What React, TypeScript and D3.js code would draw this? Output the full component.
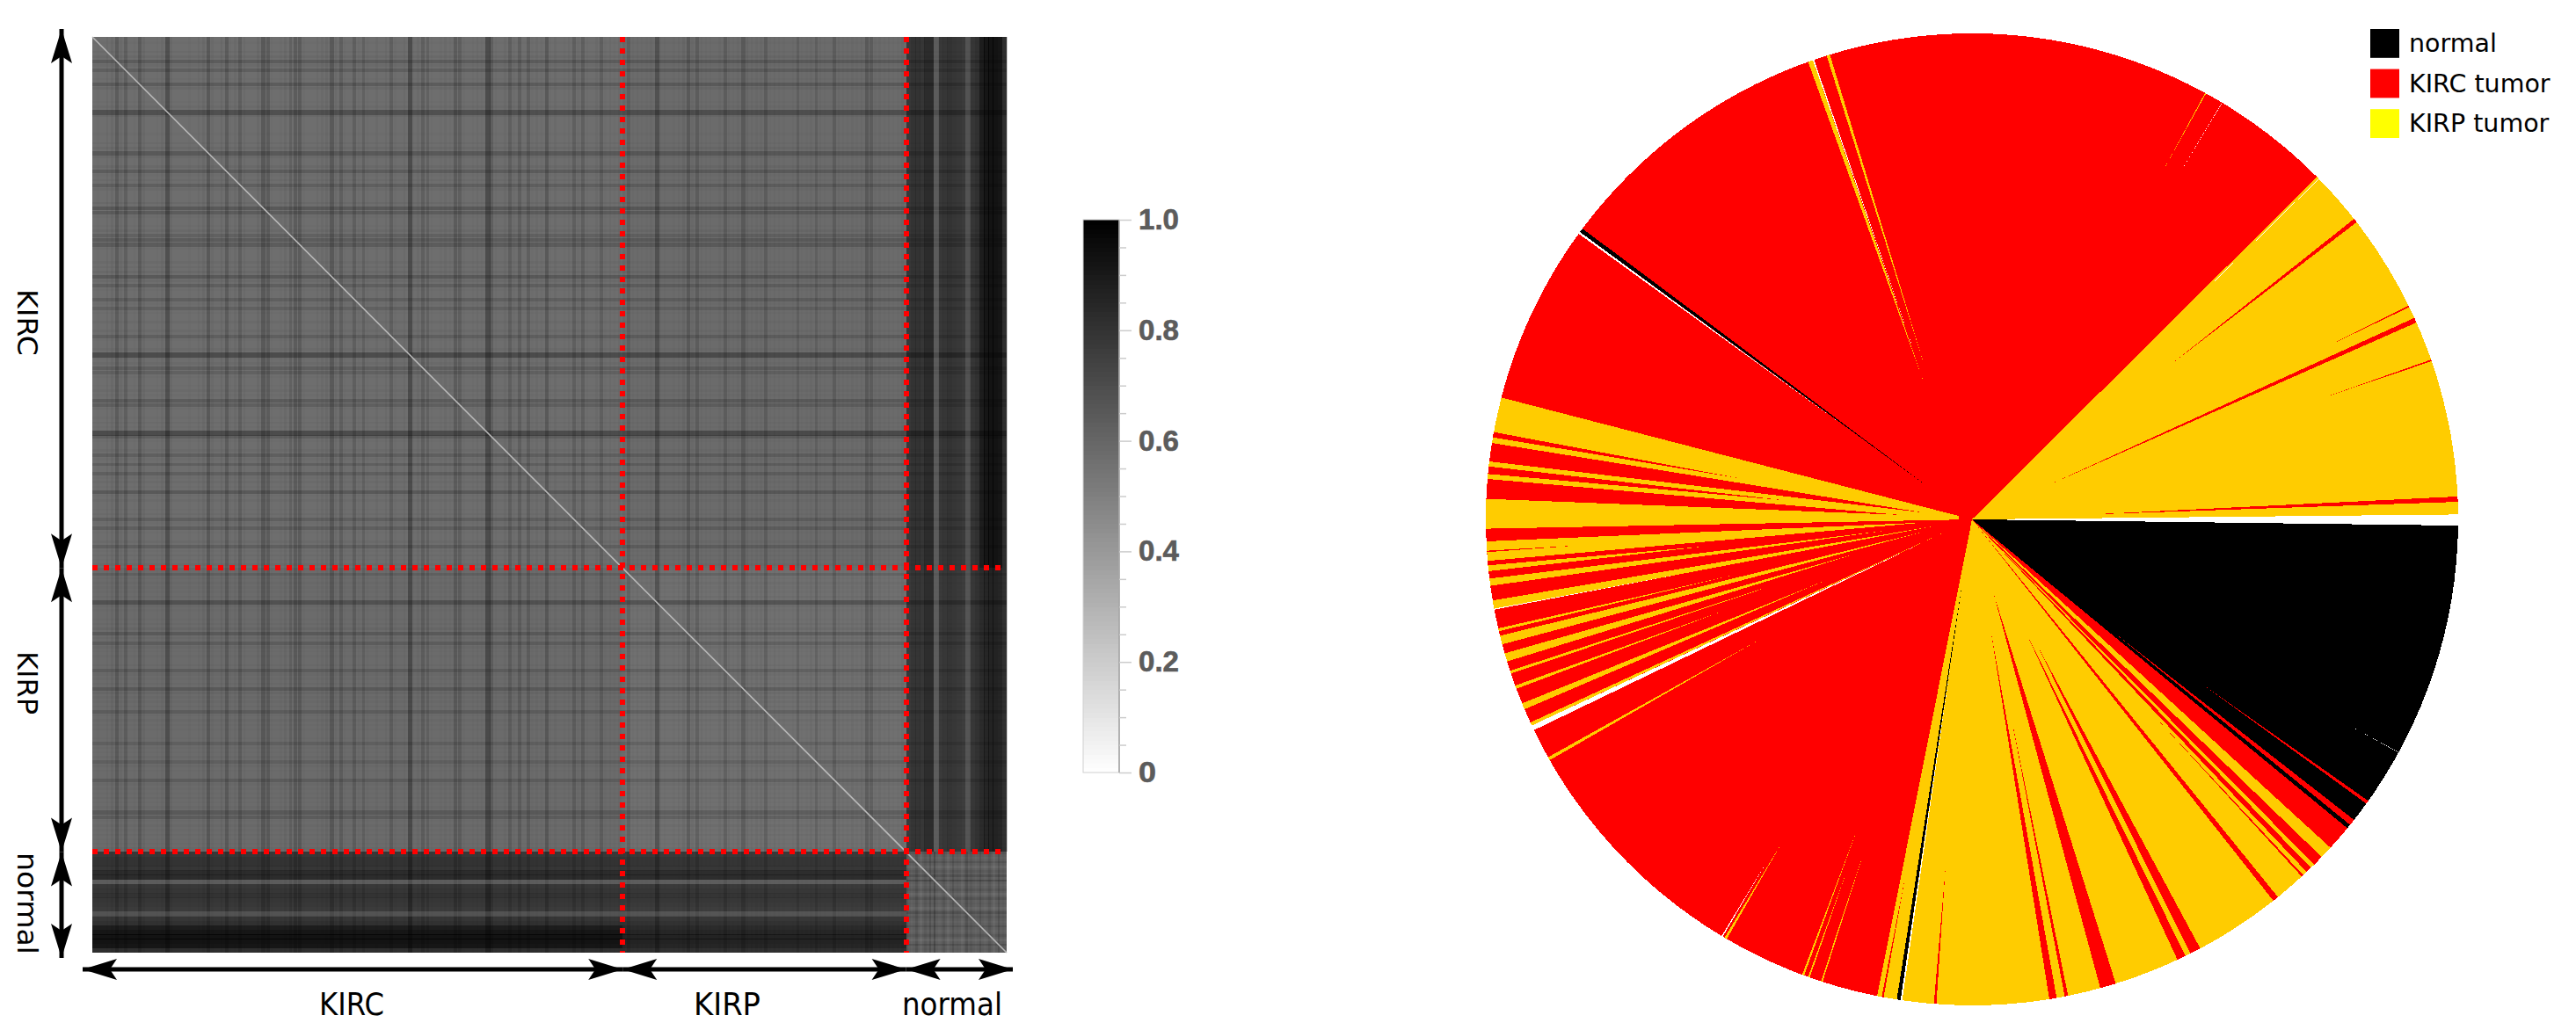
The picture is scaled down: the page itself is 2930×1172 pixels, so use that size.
import * as d3 from 'd3'
import React, { useEffect, useRef } from 'react'

// darkness of each thin row/column line
const kircStripes = [
    0, 0.01, 0, 0.02, 0.03, 0.08, 0.02, 0.07, 0, 0.01,
    0.08, 0.03, 0, 0, 0.01, 0.02, 0.12, 0.03, 0, 0,
    0, 0.01, 0, 0.02, 0.03, 0.09, 0.02, 0, 0.03, 0.08,
    0.01, 0.02, 0.07, 0.02, 0, 0, 0.03, 0.09, 0.08, 0.01,
    0, 0.01, 0.03, 0.06, 0.08, 0.08, 0.01, 0, 0, 0.02,
    0.02, 0.03, 0.09, 0.02, 0.07, 0.01, 0, 0.07, 0.01, 0.06,
    0.01, 0, 0.02, 0, 0.02, 0.07, 0.01, 0, 0.02, 0.13,
    0.01, 0.02, 0.07, 0.06, 0.01, 0, 0.01, 0.02, 0.01, 0.08,
    0.07, 0.01, 0, 0.01, 0.02, 0.01, 0.13, 0.07, 0.01, 0,
    0.02, 0.07, 0.01, 0.07, 0, 0.07, 0.01, 0.02, 0.01, 0.09,
    0.01, 0.02, 0, 0.01, 0.02, 0.07, 0.01, 0.07, 0.01, 0,
    0.02, 0.07, 0.01, 0.02, 0.01, 0.02,
]
const kirpStripes = [
    0.02, 0.06, 0.01, 0.02, 0.01, 0.01, 0.02, 0.11, 0.02, 0.01,
    0, 0.01, 0.02, 0.03, 0.08, 0.02, 0.07, 0.02, 0.01, 0.01,
    0, 0.02, 0.07, 0.02, 0.01, 0.02, 0.08, 0.03, 0.02, 0.02,
    0.02, 0.07, 0.01, 0.02, 0.01, 0.01, 0, 0.01, 0.06, 0.01,
    0.01, 0.02, 0.06, 0.02, 0.01, 0, 0.07, 0.02, 0.01, 0.01,
    0.02, 0.01, 0.02, 0.08, 0.07, 0.01, 0.02, 0.01, 0.02, 0.01,
    0.01, 0.02,
]
const normalStripes = [
    0.01, 0.03, 0.03, 0.02, 0.06, 0.06, -0.04, 0.01, 0.02, 0.03, 0.02,
    0.01, 0, -0.03, 0.02, 0.04, 0.07, 0.09, 0.1, 0.1, 0.09, 0.05,
]
const normalTexture = [
    0.03, -0.01, 0.04, -0.02, 0.02, 0.05, 0.08, -0.01, 0.03, -0.02, 0.04,
    0.01, -0.02, 0.05, 0.02, -0.01, 0.04, -0.01, 0.03, -0.02, 0.05, 0.01,
]
const groupStripes = [kircStripes, kirpStripes, normalStripes]
const groupNames = ['KIRC', 'KIRP', 'normal']
// mean similarity of each pair of groups
const blockLevels = [
    [0.57, 0.58, 0.77],
    [0.58, 0.56, 0.76],
    [0.77, 0.76, 0.63],
]
const barTicks = [0, 0.2, 0.4, 0.6, 0.8, 1]
const barMinorTicks = [
    0.05, 0.1, 0.15, 0.25, 0.3, 0.35, 0.45, 0.5, 0.55, 0.65, 0.7, 0.75, 0.85, 0.9, 0.95,
]

// pie: sample classes clockwise from 3 o'clock, angles in degrees
const sliceBreaks = [0.73, 39.46, 42.5, 44, 45.25, 45.8, 46.5, 51, 51.7, 101.25, 178.9, 194.52, 315.2, 359.42]
const sliceClasses = ['normal', 'kirc', 'kirp', 'kirc', 'kirp', 'kirc', 'kirp', 'kirc', 'kirp', 'kirc', 'kirp', 'kirc', 'kirp']
// thin samples lying over the slices: class, from, to, share of the radius where their tip sits
const spikes: [string, number, number, number][] = [
    ['kirc', 35.4, 35.8, 0.58],
    ['kirc', 38.2, 38.95, 0.37],
    ['white', 28.62, 28.68, 0.89],
    ['kirc', 47.05, 47.3, 0.55],
    ['kirc', 62, 63.3, 0.28],
    ['kirc', 63.95, 65, 0.25],
    ['kirc', 72.8, 74.7, 0.16],
    ['kirc', 78.6, 79, 0.41],
    ['kirc', 79.97, 80.85, 0.23],
    ['kirc', 94.2, 94.5, 0.72],
    ['white', 98.25, 98.45, 0.3],
    ['normal', 98.45, 98.9, 0.125],
    ['kirc', 100.47, 100.7, 0.75],
    ['kirp', 107.9, 108.1, 0.72],
    ['kirp', 109.5, 109.7, 0.77],
    ['kirp', 110.2, 110.45, 0.68],
    ['kirp', 120.3, 120.6, 0.77],
    ['white', 120.85, 121, 0.82],
    ['kirp', 150.3, 150.7, 0.5],
    ['white', 154.3, 154.9, 0.12],
    ['kirp', 154.9, 155.3, 0.05],
    ['kirp', 157, 157.75, 0.33],
    ['kirp', 159.6, 160, 0.54],
    ['kirp', 161.5, 161.85, 0.4],
    ['kirp', 163, 164, 0.25],
    ['kirp', 165.1, 166.15, 0.1],
    ['kirp', 166.7, 167.04, 0.5],
    ['kirp', 169.34, 170.4, 0.08],
    ['white', 169.3, 169.42, 0.6],
    ['kirp', 172.14, 173, 0.18],
    ['kirp', 173.88, 174.57, 0.55],
    ['kirp', 175.1, 177.41, 0.1],
    ['kirc', 176.13, 176.3, 0.81],
    ['kirc', 182.42, 184.77, 0.15],
    ['kirc', 185.36, 186.26, 0.39],
    ['kirc', 186.85, 189.05, 0.1],
    ['kirc', 189.72, 190.35, 0.49],
    ['white', 216, 216.25, 0.33],
    ['normal', 216.25, 216.75, 0.1],
    ['kirp', 250.3, 250.9, 0.3],
    ['white', 250.9, 251.05, 0.35],
    ['kirp', 252.6, 253, 0.32],
    ['kirp', 298.65, 298.78, 0.81],
    ['white', 300.93, 300.99, 0.81],
    ['white', 315.47, 315.55, 0.58],
    ['kirc', 321.8, 322.3, 0.52],
    ['kirc', 333.9, 334.1, 0.8],
    ['kirc', 335.5, 336.1, 0.17],
    ['kirc', 340.8, 341, 0.77],
    ['kirc', 357.3, 357.93, 0.24],
]
// red core where the left hand slices stop short of the centre: from, to, share of the radius
const coreSlice = [120, 240, 0.028]
const legendLabels = ['normal', 'KIRC tumor', 'KIRP tumor']
const legendClasses = ['normal', 'kirc', 'legendKirp']

const classColors = { normal: '#000000', kirc: '#ff0000', kirp: '#ffcc00', legendKirp: '#ffff00', white: '#ffffff' }

const width = 2930
const height = 1172

const App = (): JSX.Element => {
    const ref = useRef<SVGSVGElement>(null)

    useEffect(() => {
        const svg = d3.select(ref.current)
        svg.selectAll('*').remove()
        svg.append('rect').attr('width', width).attr('height', height).attr('fill', '#fff')

        // ---------- similarity matrix
        const sizes = groupStripes.map((s) => s.length)
        const total = d3.sum(sizes)
        const edges = [0, sizes[0], sizes[0] + sizes[1], total]
        const index = d3.range(total)
        const x = d3.scaleBand<number>().domain(index).range([105, 1145])
        const y = d3.scaleBand<number>().domain(index).range([42, 1084])
        const gray = d3.scaleLinear<string>().domain([0, 1]).range(['#ffffff', '#000000']).clamp(true)
        const xEdge = (k) => (k === total ? x.range()[1] : x(k))
        const yEdge = (k) => (k === total ? y.range()[1] : y(k))
        const bw = x.bandwidth()

        const matrix = svg.append('g').attr('shape-rendering', 'crispEdges')
        const drawBlock = (row, col) => {
            matrix
                .append('rect')
                .attr('x', xEdge(edges[col]))
                .attr('y', yEdge(edges[row]))
                .attr('width', xEdge(edges[col + 1]) - xEdge(edges[col]))
                .attr('height', yEdge(edges[row + 1]) - yEdge(edges[row]))
                .attr('fill', gray(blockLevels[row][col]))
        }
        d3.range(3).forEach((row) => d3.range(3).forEach((col) => drawBlock(row, col)))

        // every row/column line is a thin dark (or light) veil over the blocks
        const tumorVeil = d3.scalePow().exponent(1.3).domain([0, 0.13]).range([0, 0.3])
        const normalVeil = d3.scaleLinear().domain([0, 0.12]).range([0, 0.5])
        const textureVeil = d3.scaleLinear().domain([0, 0.12]).range([0, 0.32])
        const drawStripe = (k, value, veil, wide, x0, x1, y0, y1) => {
            const opacity = veil(Math.abs(value))
            const fill = value < 0 ? '#ffffff' : '#000000'
            matrix
                .append('rect')
                .attr('x', x(k))
                .attr('y', y0)
                .attr('width', wide)
                .attr('height', y1 - y0)
                .attr('fill', fill)
                .attr('fill-opacity', opacity)
            matrix
                .append('rect')
                .attr('x', x0)
                .attr('y', y(k))
                .attr('width', x1 - x0)
                .attr('height', wide)
                .attr('fill', fill)
                .attr('fill-opacity', opacity)
        }
        const [left, right] = x.range()
        const [top, bottom] = y.range()
        kircStripes.concat(kirpStripes).forEach((s, k) => {
            drawStripe(k, s, tumorVeil, bw * (0.4 + s * 5), left, right, top, bottom)
        })
        normalStripes.forEach((s, n) => {
            drawStripe(edges[2] + n, s, normalVeil, bw + 0.5, left, xEdge(edges[2]), top, yEdge(edges[2]))
        })
        // the deep part of the normal rows only darkens further against KIRC
        normalStripes.forEach((s, n) => {
            if (s < 0.07) return
            drawStripe(edges[2] + n, s, normalVeil, bw + 0.5, left, xEdge(edges[1]), top, yEdge(edges[1]))
        })
        // normal vs normal has its own fine grain
        drawBlock(2, 2)
        normalTexture.forEach((s, n) => {
            drawStripe(edges[2] + n, s, textureVeil, bw * 0.5, xEdge(edges[2]), right, yEdge(edges[2]), bottom)
        })

        svg.append('line')
            .attr('x1', left)
            .attr('y1', top)
            .attr('x2', right)
            .attr('y2', bottom)
            .attr('stroke', '#b8b8b8')
            .attr('stroke-width', 1.6)

        // group boundaries
        edges.slice(1, 3).forEach((k) => {
            svg.append('line')
                .attr('x1', xEdge(k))
                .attr('x2', xEdge(k))
                .attr('y1', top)
                .attr('y2', bottom)
                .attr('stroke', '#ff0000')
                .attr('stroke-width', 6)
                .attr('stroke-dasharray', '6 7')
                .attr('shape-rendering', 'crispEdges')
            svg.append('line')
                .attr('x1', left)
                .attr('x2', right)
                .attr('y1', yEdge(k))
                .attr('y2', yEdge(k))
                .attr('stroke', '#ff0000')
                .attr('stroke-width', 6)
                .attr('stroke-dasharray', '6 7')
                .attr('shape-rendering', 'crispEdges')
        })

        // double arrows along both sides
        const arrowHead = d3.line()
        const drawArrow = (x1, y1, x2, y2, weight) => {
            svg.append('line')
                .attr('x1', x1)
                .attr('y1', y1)
                .attr('x2', x2)
                .attr('y2', y2)
                .attr('stroke', '#000')
                .attr('stroke-width', weight)
            const angle = Math.atan2(y2 - y1, x2 - x1)
            ;[
                [x2, y2, angle],
                [x1, y1, angle + Math.PI],
            ].forEach(([px, py, a]) => {
                const local = (along, across) => [
                    px + along * Math.cos(a) - across * Math.sin(a),
                    py + along * Math.sin(a) + across * Math.cos(a),
                ]
                svg.append('path')
                    .attr('d', arrowHead([local(0, 0), local(-39, 12), local(-31, 0), local(-39, -12)]))
                    .attr('fill', '#000')
            })
        }
        const topTip = 33
        const bottomTip = 1090
        const leftTip = 94
        const rightTip = 1152
        const yStops = [topTip, yEdge(edges[1]), yEdge(edges[2]), bottomTip]
        const xStops = [leftTip, xEdge(edges[1]), xEdge(edges[2]), rightTip]
        d3.pairs(yStops).forEach(([a, b]) => drawArrow(70, a, 70, b, 5))
        d3.pairs(xStops).forEach(([a, b]) => drawArrow(a, 1103, b, 1103, 5))

        // group labels
        const sideLength = [76, 72, 116]
        groupNames.forEach((name, k) => {
            const middle = [367, 777, 1028][k]
            svg.append('text')
                .attr('transform', `translate(20,${middle}) rotate(90)`)
                .attr('text-anchor', 'middle')
                .attr('font-family', 'DejaVu Sans')
                .attr('font-size', 32)
                .attr('textLength', sideLength[k])
                .attr('lengthAdjust', 'spacingAndGlyphs')
                .text(name)
            svg.append('text')
                .attr('x', [400, 827, 1083][k])
                .attr('y', 1155)
                .attr('text-anchor', 'middle')
                .attr('font-family', 'DejaVu Sans')
                .attr('font-size', 36)
                .attr('textLength', [74, 76, 114][k])
                .attr('lengthAdjust', 'spacingAndGlyphs')
                .text(name)
        })

        // ---------- colour bar
        const barY = d3.scaleLinear().domain([0, 1]).range([879, 250])
        const barSteps = d3.range(0, 1, 1 / 120)
        svg.append('g')
            .attr('shape-rendering', 'crispEdges')
            .selectAll('rect')
            .data(barSteps)
            .enter()
            .append('rect')
            .attr('x', 1232)
            .attr('width', 41)
            .attr('y', (d) => barY(d + 1 / 120))
            .attr('height', (d) => barY(d) - barY(d + 1 / 120) + 0.5)
            .attr('fill', (d) => gray(d + 1 / 240))
        svg.append('rect')
            .attr('x', 1232)
            .attr('y', 250)
            .attr('width', 41)
            .attr('height', 629)
            .attr('fill', 'none')
            .attr('stroke', '#d0d0d0')
        svg.append('line')
            .attr('x1', 1273)
            .attr('x2', 1273)
            .attr('y1', 250)
            .attr('y2', 879)
            .attr('stroke', '#a0a0a0')
            .attr('stroke-width', 1.5)

        const minorAxis = d3.axisRight(barY).tickValues(barMinorTicks).tickSize(8).tickFormat(() => '')
        const majorAxis = d3
            .axisRight(barY)
            .tickValues(barTicks)
            .tickSize(14)
            .tickPadding(8)
            .tickFormat((d) => (d === 0 ? '0' : d3.format('.1f')(d)))
        ;[minorAxis, majorAxis].forEach((axis) => {
            const g = svg.append('g').attr('transform', 'translate(1273,0)').call(axis)
            g.select('.domain').remove()
            g.selectAll('line').attr('stroke', '#cccccc').attr('stroke-width', 1.5)
            g.selectAll('text')
                .attr('font-family', 'Liberation Sans')
                .attr('font-weight', 'bold')
                .attr('font-size', 33)
                .attr('fill', '#5c5c5c')
                .attr('stroke', '#5c5c5c')
                .attr('stroke-width', 0.6)
                .attr('textLength', (d) => (d === 0 ? 20 : 46))
                .attr('lengthAdjust', 'spacingAndGlyphs')
        })

        // ---------- pie
        const cx = 2243
        const cy = 591
        const radius = 553
        const angle = d3
            .scaleLinear()
            .domain([0, 360])
            .range([Math.PI / 2, Math.PI / 2 + 2 * Math.PI])
        const radial = d3.scaleLinear().domain([0, 1]).range([0, radius])
        const arc = d3.arc()
        const spikePath = d3.lineRadial().curve(d3.curveLinearClosed)
        const pie = svg
            .append('g')
            .attr('transform', `translate(${cx},${cy})`)
            .attr('shape-rendering', 'crispEdges')

        pie.selectAll('path.slice')
            .data(d3.pairs(sliceBreaks))
            .enter()
            .append('path')
            .attr('class', 'slice')
            .attr('d', ([from, to]) =>
                arc({
                    innerRadius: 0,
                    outerRadius: radial(1),
                    startAngle: angle(from),
                    endAngle: angle(to),
                })
            )
            .attr('fill', (d, i) => classColors[sliceClasses[i]])

        // spikes taper from the rim down to their tip
        pie.selectAll('path.spike')
            .data(spikes)
            .enter()
            .append('path')
            .attr('class', 'spike')
            .attr('d', ([, from, to, tip]) =>
                spikePath([
                    [angle((from + to) / 2), radial(tip)],
                    [angle(from), radial(1)],
                    [angle(to), radial(1)],
                ])
            )
            .attr('fill', (d) => classColors[d[0]])

        pie.append('path')
            .attr(
                'd',
                arc({
                    innerRadius: 0,
                    outerRadius: radial(coreSlice[2]),
                    startAngle: angle(coreSlice[0]),
                    endAngle: angle(coreSlice[1]),
                })
            )
            .attr('fill', classColors.kirc)

        // ---------- legend
        const legendY = d3.scaleBand<number>().domain([0, 1, 2]).range([33, 157]).paddingInner(0.28)
        legendLabels.forEach((label, i) => {
            svg.append('rect')
                .attr('x', 2696)
                .attr('y', legendY(i))
                .attr('width', 33)
                .attr('height', legendY.bandwidth())
                .attr('fill', classColors[legendClasses[i]])
            svg.append('text')
                .attr('x', 2740)
                .attr('y', legendY(i) + 26)
                .attr('font-family', 'DejaVu Sans')
                .attr('font-size', 28.5)
                .attr('fill', '#000')
                .text(label)
        })
    }, [])

    return (
        <svg
            ref={ref}
            width={width}
            height={height}
            style={{ position: 'absolute', left: 0, top: 0, display: 'block' }}
        />
    )
}

export default App
